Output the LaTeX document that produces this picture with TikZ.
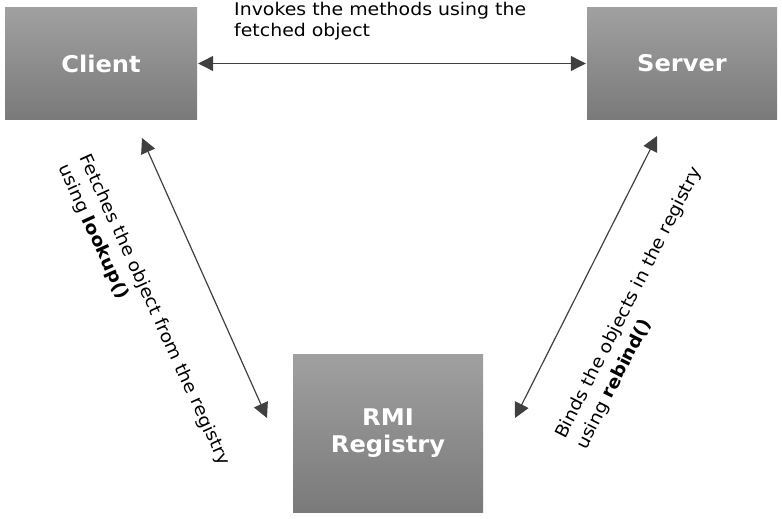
\documentclass[tikz,border=0pt]{standalone}
\usepackage{fontspec}
\setmainfont{DejaVu Sans}
\usetikzlibrary{arrows.meta}
\definecolor{boxtop}{RGB}{160,160,160}
\definecolor{boxbot}{RGB}{122,122,122}
\definecolor{arrowc}{RGB}{64,64,64}
\begin{document}
\begin{tikzpicture}[x=1pt,y=-1pt,
  box/.style={rectangle, top color=boxtop, bottom color=boxbot, text=white,
    font=\fontsize{23}{27}\selectfont\bfseries\addfontfeature{FakeStretch=1.05}, align=center, inner sep=0pt},
  conn/.style={draw=arrowc, line width=1.2pt,
    {Triangle[length=15pt,width=15pt]}-{Triangle[length=15pt,width=15pt]}},
  lbl/.style={font=\fontsize{17.5}{21}\selectfont\addfontfeature{FakeStretch=1.08}, text=black, align=left, inner sep=0pt},
  rlbl/.style={lbl, font=\fontsize{17.5}{23.5}\selectfont\addfontfeature{FakeStretch=1.08}}]
\useasboundingbox (0,0) rectangle (782,519);
\node[box, minimum width=192pt, minimum height=111pt] (client) at (101,63.5) {Client};
\node[box, minimum width=190pt, minimum height=111pt] (server) at (682,63.5) {Server};
\node[box, minimum width=190pt, minimum height=158pt] (rmi) at (388,433) {RMI\\Registry};
\draw[conn] ([xshift=1pt]client.east) -- ([xshift=-1pt]server.west);
\node[lbl, anchor=north west] (top) at (234,2.5) {Invokes the methods using the\\fetched object};
\coordinate (l1) at (142,138);
\coordinate (l2) at (267,418);
\draw[conn] (l1) -- (l2);
\coordinate (r1) at (657,136);
\coordinate (r2) at (515,418);
\draw[conn] (r1) -- (r2);
\node[rlbl, anchor=north west, rotate=-65.6] (ltext) at (92,152) {Fetches the object from the registry\\using \textbf{lookup()}};
\node[rlbl, anchor=north west, rotate=63.1] (rtext) at (553,434) {Binds the objects in the registry\\using \textbf{rebind()}};
\end{tikzpicture}
\end{document}
